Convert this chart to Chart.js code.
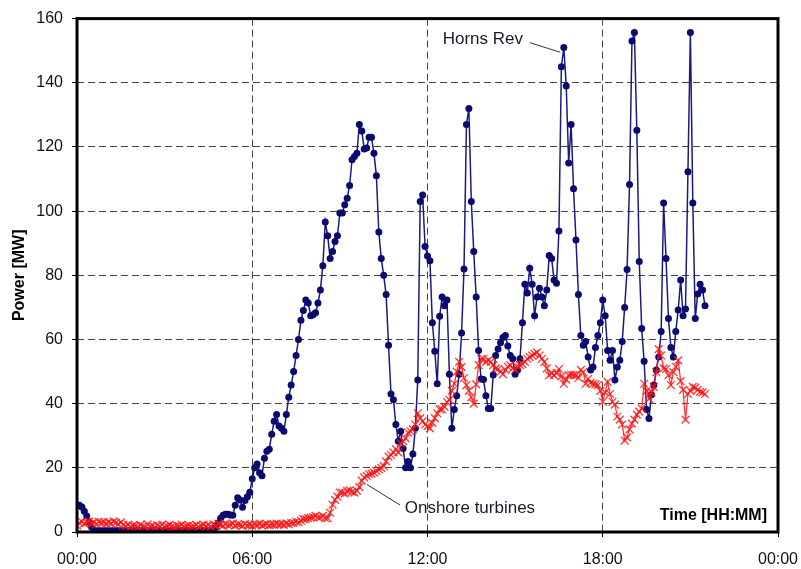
<!DOCTYPE html>
<html>
<head>
<meta charset="utf-8">
<script src="https://cdn.jsdelivr.net/npm/chart.js@4"></script>
<style>
  html, body { margin: 0; padding: 0; background: #fff; }
  #wrap { width: 801px; height: 569px; }
</style>
</head>
<body>
<div id="wrap"><canvas id="power_chart" width="801" height="569"></canvas></div>
<script>
// 5-minute samples starting at 00:00
const stepMinutes = 5;
const timeLabels = ["00:00", "06:00", "12:00", "18:00", "00:00"];
const seriesNames = ["Horns Rev", "Onshore turbines"];

const hornsRev = [
    8.5, 8.3, 7.8, 6.5, 5, 3, 1.5, 0.5,
    0.4, 0.4, 0.4, 0.4, 0.4, 0.4, 0.4, 0.4, 0.4, 0.4, 0.4, 0.4, 0.4, 0.4, 0.4, 0.4,
    0.4, 0.4, 0.4, 0.4, 0.4, 0.4, 0.4, 0.4, 0.4, 0.4, 0.4, 0.4, 0.4, 0.4, 0.4, 0.4,
    0.4, 0.4, 0.4, 0.4, 0.4, 0.4, 0.4, 0.4, 0.4, 0.4, 0.4, 0.4, 0.4, 0.4, 0.4, 0.4, 0.4,
    1.5, 2.8, 4.3, 5.2, 5.5, 5.5, 5.3, 5.2, 8.3, 10.7, 10, 7.7, 9.8, 11, 12.4, 16.6,
    20, 21.2, 18.5, 17.5, 23, 25.2, 25.8, 30.5, 34.5, 36.6, 33, 32.3, 31.4, 36.6, 42, 45.8,
    50, 55, 60, 66, 69, 72.3, 71.4, 67.4, 67.7, 68.3, 71.4, 75.4, 83, 96.6, 92.3, 85.2,
    87.4, 90.5, 92.3, 99.4, 99.4, 102, 104, 108, 116, 117, 118, 127, 125, 119.4, 119.7, 123,
    123, 118, 111, 93.5, 85.2, 80, 74, 58.2, 43, 41.2, 33.5, 28.3, 31.4, 26, 20, 22,
    20, 24.3, 32.3, 47.4, 103, 105, 89, 86, 84.5, 65.2, 56.3, 46.2, 67.2, 73.2, 70.5, 72.3,
    49.2, 32.3, 38.2, 42.5, 49.2, 62, 82, 127, 132, 103, 87.4, 73.2, 56.6, 47.7, 47.5, 42.5,
    38.5, 38.5, 48.9, 55, 57, 59, 60.6, 61.2, 58, 55, 54, 49.2, 50.5, 54, 65.2, 77.2,
    74.5, 82.2, 77.2, 67.4, 73.2, 76, 73.2, 70.5, 75.4, 86.2, 85.2, 78.5, 77.5, 93.8, 145, 151,
    139, 115, 127, 107, 91, 74, 61.2, 58.2, 59.4, 54.5, 50.5, 51.4, 57.5, 61.2, 65.2, 72.3,
    67.4, 56.6, 53.5, 56.6, 47.4, 51.4, 53.5, 59.4, 70, 81.8, 108.3, 153, 155.7, 125.2, 84.3, 63.4,
    53.2, 38.2, 35.4, 42.8, 45.8, 50.5, 54.5, 62.5, 102.5, 85.2, 66.5, 57.5, 54.5, 62.5, 69.2, 78.5,
    67.4, 69.5, 112.3, 155.7, 102.5, 66.5, 74.2, 77.2, 75.4, 70.5
];

const onshore = [
    2, 2.8, 3.2, 2.6, 3, 3.3, 2.7, 3, 2.5, 3.2, 2.9, 3.1, 2.6, 3, 2.7, 3.3,
    2.9, 2.5, 3, 2.2, 1.8, 2.3, 1.6, 2, 1.9, 1.5, 2.2, 1.8, 1.6, 2.4, 1.7, 1.9,
    1.5, 2.1, 1.8, 2.3, 1.6, 1.9, 2.2, 1.7, 1.5, 2, 1.8, 2.3, 1.6, 1.9, 2.1, 1.7,
    1.8, 2.2, 1.6, 2, 2.3, 1.8, 2.1, 1.7, 2.4, 2, 2.6, 2.2, 1.9, 2.5, 2.1, 2.3,
    2.7, 2, 2.4, 2.2, 1.9, 2.5, 2.1, 2.3, 2, 2.4, 2.2, 2.6, 2, 2.3, 2.5, 2.1,
    2.4, 2.2, 2.6, 2.3, 2.5, 2.2, 2.7, 2.4, 2.8, 2.8, 3.2, 3, 3.5, 4, 4, 4.3,
    4.5, 4.6, 5, 4.6, 4.6, 5, 4.3, 4.3, 6, 8.5, 10, 11, 12.3, 12.3, 12, 12.8,
    13, 12.5, 12.3, 12.8, 14, 16, 17, 17.5, 18, 18.2, 18.5, 19, 19.5, 20, 20.5, 22,
    23.5, 24, 24.8, 25.8, 24.8, 27.7, 28.3, 29.2, 31, 31.4, 32, 33.5, 37, 35.5, 34.5, 33.5,
    33, 32.3, 34, 35.5, 37, 38.2, 38.2, 39, 40.5, 41.2, 44, 46.2, 50, 53, 51.4, 48,
    45.8, 44, 42, 40, 46, 52, 54, 54, 53, 53.5, 53, 52, 51, 50.8, 50, 49.2,
    50.5, 51.5, 52, 51, 50.5, 51.5, 52, 52.3, 53, 54, 54.5, 55, 55.5, 56, 55, 54,
    53, 51, 48.9, 49.5, 48.9, 49.5, 50.8, 48.5, 46.2, 47.5, 48.9, 49, 48.9, 48.9, 48, 50.5,
    49.8, 46.2, 47.7, 46.5, 46.2, 46, 45.8, 44, 40.6, 43.5, 46.8, 43, 40.6, 39.7, 36, 35,
    33.5, 28.5, 29.5, 32, 33.8, 35, 36.6, 37.5, 38.5, 46.2, 44, 41.5, 43.5, 45.2, 49.8, 57,
    55, 51, 50.8, 48.9, 45.8, 49.8, 51.5, 53.5, 47, 44.3, 35, 43, 44, 45.2, 45, 44.3,
    43.7, 43.5, 43
];

const toPoints = (values) => values.map((v, i) => ({ x: i * stepMinutes / 60, y: v }));

const fontFamily = "'Liberation Sans', Arial, sans-serif";

// labels drawn on the plot, placed in data units (hours, MW)
const notes = [
    { text: "Horns Rev", at: [12.52, 153.6], from: [15.5, 152.5], to: [16.55, 149.5] },
    { text: "Onshore turbines", at: [11.22, 7.3], from: [9.93, 14.8], to: [11.06, 8.4] }
];

const framePlugin = {
    id: "frame",
    afterDatasetsDraw(chart) {
        const { ctx, chartArea: a, scales: { x, y } } = chart;
        ctx.save();
        ctx.strokeStyle = "#000";
        ctx.lineWidth = 3;
        ctx.strokeRect(a.left, a.top, a.right - a.left, a.bottom - a.top);

        ctx.fillStyle = "#000";
        ctx.font = "bold 16px " + fontFamily;
        ctx.textAlign = "right";
        ctx.textBaseline = "middle";
        ctx.fillText("Time [HH:MM]", a.right - 11, a.bottom - 16);

        ctx.font = "17px " + fontFamily;
        ctx.textAlign = "left";
        ctx.fillStyle = "#1a1a2a";
        ctx.strokeStyle = "#333";
        ctx.lineWidth = 1;
        notes.forEach(n => {
            ctx.fillText(n.text, x.getPixelForValue(n.at[0]), y.getPixelForValue(n.at[1]));
            ctx.beginPath();
            ctx.moveTo(x.getPixelForValue(n.from[0]), y.getPixelForValue(n.from[1]));
            ctx.lineTo(x.getPixelForValue(n.to[0]), y.getPixelForValue(n.to[1]));
            ctx.stroke();
        });
        ctx.restore();
    }
};

const powerChart = new Chart(document.getElementById("power_chart"), {
    type: "line",
    data: {
        datasets: [{
            label: seriesNames[1],
            data: toPoints(onshore),
            borderColor: "rgba(255, 20, 20, 0.85)",
            backgroundColor: "rgba(255, 20, 20, 0.85)",
            borderWidth: 1.3,
            pointStyle: "crossRot",
            pointRadius: 5.5,
            pointBorderWidth: 1.3,
            order: 0
        }, {
            label: seriesNames[0],
            data: toPoints(hornsRev),
            borderColor: "#1a1a80",
            backgroundColor: "#0a0a70",
            borderWidth: 1.5,
            pointStyle: "circle",
            pointRadius: 3.5,
            pointBorderWidth: 0,
            order: 1
        }]
    },
    options: {
        responsive: false,
        animation: false,
        layout: { padding: { top: 13, right: 23, left: 0, bottom: 0 } },
        plugins: {
            legend: { display: false },
            tooltip: { enabled: false }
        },
        scales: {
            x: {
                type: "linear",
                min: 0,
                max: 24,
                afterFit(scale) {
                    scale.height = 37;
                    scale.paddingRight = 23;
                },
                ticks: {
                    stepSize: 6,
                    maxRotation: 0,
                    padding: 13,
                    color: "#111",
                    font: { family: fontFamily, size: 16 },
                    callback: (v) => timeLabels[v / 6]
                },
                grid: { color: "#444", lineWidth: 1, tickLength: 5, tickColor: "#000" },
                border: { display: false, dash: [7, 4] }
            },
            y: {
                min: 0,
                max: 160,
                afterFit(scale) { scale.width = 77; },
                ticks: {
                    stepSize: 20,
                    padding: 9,
                    color: "#111",
                    font: { family: fontFamily, size: 16 }
                },
                grid: { color: "#444", lineWidth: 1, tickLength: 5, tickColor: "#000" },
                border: { display: false, dash: [7, 4] },
                title: {
                    display: true,
                    text: "Power [MW]",
                    color: "#000",
                    font: { family: fontFamily, size: 16, weight: "bold" },
                    padding: { top: 10, bottom: 0 }
                }
            }
        }
    },
    plugins: [framePlugin]
});
</script>
</body>
</html>
